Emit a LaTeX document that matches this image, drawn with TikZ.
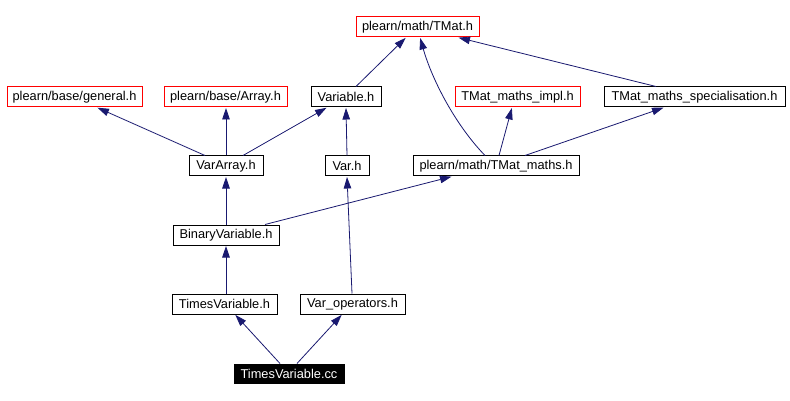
\documentclass[tikz,border=0pt]{standalone}
\usepackage{fontspec}
\setmainfont{Liberation Sans}
\usetikzlibrary{arrows.meta}
\definecolor{edgeblue}{HTML}{191970}
\definecolor{missred}{HTML}{FF0000}
\begin{document}
\begin{tikzpicture}[x=1pt,y=-1pt,
  box/.style={draw=black,line width=1pt,fill=white,inner sep=0pt,minimum height=20pt,
    font=\fontsize{12.8}{14}\selectfont,text=black},
  redbox/.style={box,draw=missred},
  ccbox/.style={box,fill=black,text=white,minimum height=19pt},
  edge/.style={draw=edgeblue,line width=0.8pt,shorten >=0.5pt,-{Triangle[length=11.5pt,width=7.5pt]}}]
\useasboundingbox[fill=white] (0,0) rectangle (790,401);
% nodes
\node[redbox,minimum width=123pt] (tmat) at (417.5,27) {plearn/math/TMat.h};
\node[redbox,minimum width=135pt] (gen) at (74.5,97) {plearn/base/general.h};
\node[redbox,minimum width=123pt] (arr) at (225.5,97) {plearn/base/Array.h};
\node[box,minimum width=70pt] (var) at (346,97) {Variable.h};
\node[redbox,minimum width=125pt] (impl) at (517.5,97) {TMat\_maths\_impl.h};
\node[box,minimum width=181pt] (spec) at (694.5,97) {TMat\_maths\_specialisation.h};
\node[box,minimum width=74pt] (varr) at (226,166) {VarArray.h};
\node[box,minimum width=44pt] (varh) at (347,166) {Var.h};
\node[box,minimum width=166pt] (maths) at (496,166) {plearn/math/TMat\_maths.h};
\node[box,minimum width=106pt] (bin) at (226,235) {BinaryVariable.h};
\node[box,minimum width=105pt] (timesh) at (224.5,304) {TimesVariable.h};
\node[box,minimum width=105pt] (varop) at (352.5,304) {Var\_operators.h};
\node[ccbox,minimum width=110pt] (cc) at (289,373.5) {TimesVariable.cc};
% edges
\draw[edge] ([xshift=-21pt]varr.north) -- ([xshift=22.5pt]gen.south);
\draw[edge] (varr.north) -- (varr.north |- arr.south);
\draw[edge] ([xshift=17pt]varr.north) -- ([xshift=-19pt]var.south);
\draw[edge] (varh.north) -- (var.south);
\draw[edge] ([xshift=10pt]var.north) -- ([xshift=-11.5pt]tmat.south);
\draw[edge] ([xshift=-11pt]maths.north) .. controls +(-30,-31) and +(12,42) .. ([xshift=2.5pt]tmat.south);
\draw[edge] ([xshift=3pt]maths.north) -- ([xshift=-5.5pt]impl.south);
\draw[edge] ([xshift=29pt]maths.north) -- ([xshift=-30.5pt]spec.south);
\draw[edge] ([xshift=-38.5pt]spec.north) -- ([xshift=40.5pt]tmat.south);
\draw[edge] (bin.north) -- (varr.south);
\draw[edge] ([xshift=39pt]bin.north) -- ([xshift=-44pt]maths.south);
\draw[edge] ([xshift=-0.5pt]varop.north) -- (varh.south);
\draw[edge] ([xshift=1.5pt]timesh.north) -- (bin.south);
\draw[edge] ([xshift=-9pt]cc.north) -- ([xshift=10.5pt]timesh.south);
\draw[edge] ([xshift=8pt]cc.north) -- ([xshift=-10.5pt]varop.south);
\end{tikzpicture}
\end{document}
